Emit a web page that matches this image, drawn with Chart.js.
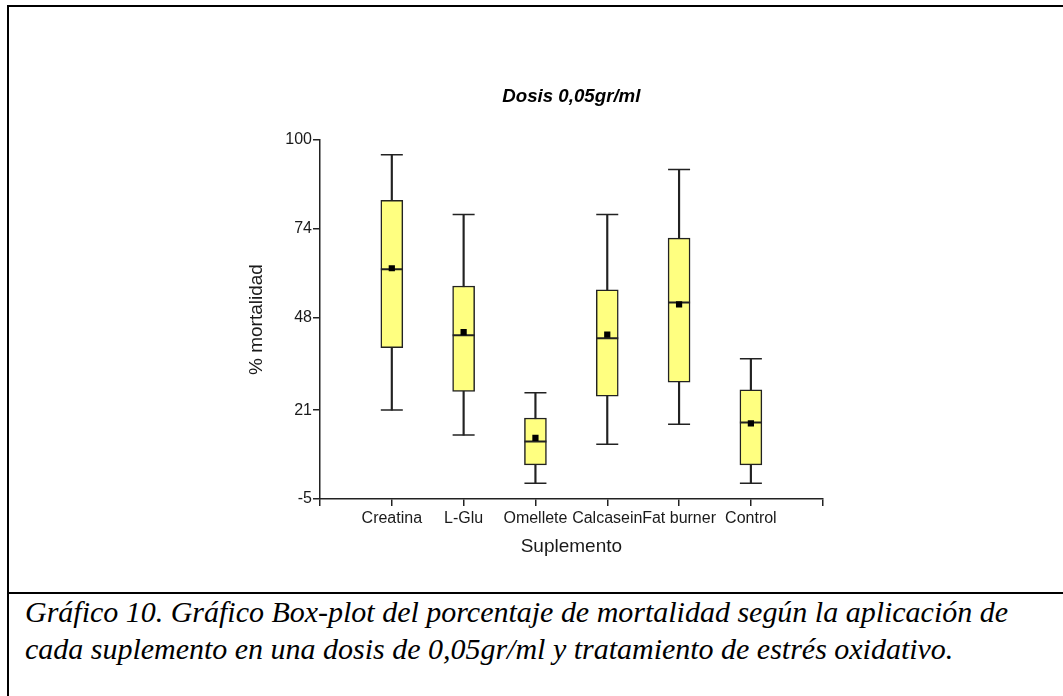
<!DOCTYPE html>
<html><head><meta charset="utf-8">
<script src="https://cdn.jsdelivr.net/npm/chart.js@4.4.0/dist/chart.umd.min.js"></script>
<style>
html,body{margin:0;padding:0;background:#fff;width:1063px;height:696px;overflow:hidden;}
#frameTop{position:absolute;left:7px;top:5px;width:1056px;height:2px;background:#000;}
#frameLeft{position:absolute;left:7px;top:5px;width:2px;height:691px;background:#000;}
#sep{position:absolute;left:7px;top:592px;width:1056px;height:2px;background:#000;}
#c{position:absolute;left:0;top:0;}
.cap{position:absolute;left:25px;font-family:'Liberation Serif','Times New Roman',serif;font-style:italic;font-size:29px;white-space:nowrap;transform-origin:0 0;color:#000;line-height:1;}
</style></head>
<body>
<div id="frameTop"></div><div id="frameLeft"></div><div id="sep"></div>
<canvas id="c" width="1063" height="590"></canvas>
<div class="cap" id="cap1" style="top:597.8px">Gráfico 10. Gráfico Box-plot del porcentaje de mortalidad según la aplicación de</div>
<div class="cap" id="cap2" style="top:634.7px">cada suplemento en una dosis de 0,05gr/ml y tratamiento de estrés oxidativo.</div>
<script>
const categories = ['Creatina','L-Glu','Omellete','Calcasein','Fat burner','Control'];
const positions = [1, 2, 3, 4, 5, 6];
const xTickPositions = [0, 1, 2, 3, 4, 5, 6, 7];
const whiskerLow  = [21.0, 13.7, -0.4, 11.0, 16.9, -0.4];
const q1          = [39.3, 26.5,  5.0, 25.1, 29.2,  5.0];
const median      = [62.2, 42.9, 11.8, 42.0, 52.5, 17.4];
const q3          = [82.4, 57.3, 18.7, 56.2, 71.3, 26.9];
const whiskerHigh = [95.7, 78.2, 26.1, 78.2, 91.4, 36.0];
const mean        = [62.5, 43.8, 12.9, 43.1, 51.9, 17.1];
const yTicks = [-5, 21, 48, 74, 100];

// caption width fit
(function(){
  const el = document.getElementById('cap1');
  const w = el.getBoundingClientRect().width;
  const s = 983 / w;
  document.getElementById('cap1').style.transform = 'scaleX(' + s + ')';
  document.getElementById('cap2').style.transform = 'scaleX(' + s + ')';
})();

Chart.defaults.font.family = "'Liberation Sans', Arial, sans-serif";
Chart.defaults.color = '#1a1a1a';
const LINE = '#222222';

new Chart(document.getElementById('c'), {
  type: 'bar',
  data: {
    datasets: [
      {
        type: 'bar', label: 'whiskers', order: 5, grouped: false,
        data: positions.map((p, i) => ({x: p, y: [whiskerLow[i], whiskerHigh[i]]})),
        backgroundColor: LINE, borderWidth: 0, barThickness: 1.5
      },
      {
        type: 'bar', label: 'box', order: 4, grouped: false,
        data: positions.map((p, i) => ({x: p, y: [q1[i], q3[i]]})),
        backgroundColor: '#ffff80', borderColor: LINE, borderWidth: 1.5,
        borderSkipped: false, barThickness: 22
      },
      {
        type: 'scatter', label: 'caps', order: 3,
        data: positions.map((p, i) => ({x: p, y: whiskerLow[i]})).concat(positions.map((p, i) => ({x: p, y: whiskerHigh[i]}))),
        pointStyle: 'line', pointRadius: 11, borderColor: LINE, borderWidth: 1.5
      },
      {
        type: 'scatter', label: 'median', order: 2,
        data: positions.map((p, i) => ({x: p, y: median[i]})),
        pointStyle: 'line', pointRadius: 11, borderColor: LINE, borderWidth: 2
      },
      {
        type: 'scatter', label: 'mean', order: 1,
        data: positions.map((p, i) => ({x: p, y: mean[i]})),
        pointStyle: 'rect', pointRadius: 4.4, backgroundColor: '#000', borderColor: '#000', borderWidth: 0
      }
    ]
  },
  options: {
    responsive: false, animation: false, events: [],
    layout: {padding: {left: 245, right: 240.3, top: 85.8, bottom: 31}},
    plugins: {
      legend: {display: false}, tooltip: {enabled: false},
      title: {
        display: true, text: 'Dosis 0,05gr/ml', fullSize: false, color: '#000',
        font: {size: 18.7, weight: 'bold', style: 'italic'},
        padding: {top: 0, bottom: 31.8}
      }
    },
    scales: {
      x: {
        type: 'linear', min: 0, max: 7, offset: false,
        afterFit: s => { s.height = 60; },
        afterBuildTicks: s => { s.ticks = xTickPositions.map(v => ({value: v})); },
        ticks: {
          autoSkip: false, maxRotation: 0, minRotation: 0, padding: 3,
          font: {size: 16},
          callback: v => categories[positions.indexOf(v)] || ''
        },
        grid: {offset: false, drawOnChartArea: false, drawTicks: true, tickLength: 7, color: LINE, lineWidth: 1.5},
        border: {display: true, color: LINE, width: 1.5},
        title: {display: true, text: 'Suplemento', font: {size: 19}, padding: {top: 0, bottom: 0.6}, color: '#1a1a1a'}
      },
      y: {
        type: 'linear', min: -5, max: 100,
        afterFit: s => { s.width = 75; },
        afterBuildTicks: s => { s.ticks = yTicks.map(v => ({value: v})); },
        ticks: {padding: 1, font: {size: 16}},
        grid: {drawOnChartArea: false, drawTicks: true, tickLength: 7, color: LINE, lineWidth: 1.5},
        border: {display: true, color: LINE, width: 1.5},
        title: {display: true, text: '% mortalidad', font: {size: 19}, padding: {top: 0, bottom: 0}, color: '#1a1a1a'}
      }
    }
  }
});
</script>
</body></html>
